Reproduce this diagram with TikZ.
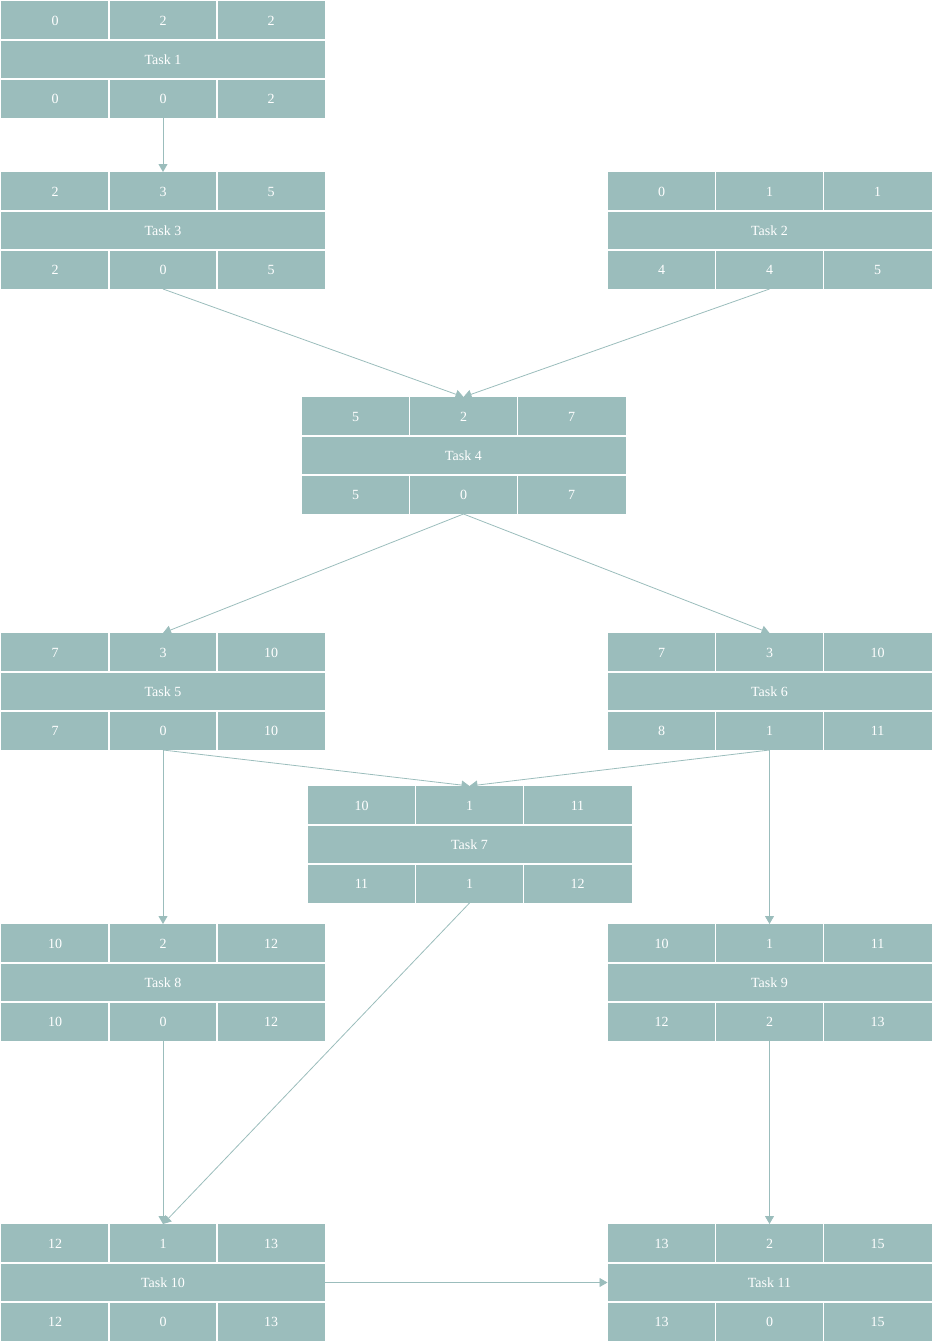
\documentclass[tikz,border=0pt]{standalone}
\usepackage{fontspec}
\setmainfont{Liberation Serif}
\usetikzlibrary{arrows.meta}
\definecolor{tealgrey}{RGB}{155,189,188}
\tikzset{
  taskblock/.style={fill=tealgrey, minimum width=324pt, minimum height=117pt, inner sep=0pt, outer sep=0pt},
  cell/.style={text=white, font=\fontsize{14}{16}\selectfont, inner sep=0pt, yshift=-0.5pt},
  sep/.style={draw=white, line width=1.2pt},
  conn/.style={draw=tealgrey, line width=0.8pt, -{Triangle[length=8pt,width=9pt]}}
}
\newcommand\taskbox[9]{%
  \node[taskblock] (#1) at (#2) {};
  \draw[sep] ([yshift=-39pt]#1.north west) -- ([yshift=-39pt]#1.north east);
  \draw[sep] ([yshift=39pt]#1.south west) -- ([yshift=39pt]#1.south east);
  \draw[sep] ([xshift=108pt]#1.north west) -- ([xshift=108pt,yshift=-39pt]#1.north west);
  \draw[sep] ([xshift=216pt]#1.north west) -- ([xshift=216pt,yshift=-39pt]#1.north west);
  \draw[sep] ([xshift=108pt]#1.south west) -- ([xshift=108pt,yshift=39pt]#1.south west);
  \draw[sep] ([xshift=216pt]#1.south west) -- ([xshift=216pt,yshift=39pt]#1.south west);
  \node[cell] (#1-a) at ([xshift=-108pt,yshift=39pt]#1.center) {#3};
  \node[cell] (#1-b) at ([yshift=39pt]#1.center) {#4};
  \node[cell] (#1-c) at ([xshift=108pt,yshift=39pt]#1.center) {#5};
  \node[cell] (#1-l) at (#1.center) {#6};
  \node[cell] (#1-d) at ([xshift=-108pt,yshift=-39pt]#1.center) {#7};
  \node[cell] (#1-e) at ([yshift=-39pt]#1.center) {#8};
  \node[cell] (#1-f) at ([xshift=108pt,yshift=-39pt]#1.center) {#9};
}
\begin{document}
\begin{tikzpicture}[x=1pt,y=-1pt]
\useasboundingbox (0,0) rectangle (933,1344);
\taskbox{t1}{163,59.5}{0}{2}{2}{Task 1}{0}{0}{2}
\taskbox{t3}{163,230.5}{2}{3}{5}{Task 3}{2}{0}{5}
\taskbox{t2}{769.5,230.5}{0}{1}{1}{Task 2}{4}{4}{5}
\taskbox{t4}{463.5,455.5}{5}{2}{7}{Task 4}{5}{0}{7}
\taskbox{t5}{163,691.5}{7}{3}{10}{Task 5}{7}{0}{10}
\taskbox{t6}{769.5,691.5}{7}{3}{10}{Task 6}{8}{1}{11}
\taskbox{t7}{469.5,844.5}{10}{1}{11}{Task 7}{11}{1}{12}
\taskbox{t8}{163,982.5}{10}{2}{12}{Task 8}{10}{0}{12}
\taskbox{t9}{769.5,982.5}{10}{1}{11}{Task 9}{12}{2}{13}
\taskbox{t10}{163,1282.5}{12}{1}{13}{Task 10}{12}{0}{13}
\taskbox{t11}{769.5,1282.5}{13}{2}{15}{Task 11}{13}{0}{15}
\draw[conn] (t1.south) -- (t3.north);
\draw[conn] (t3.south) -- (t4.north);
\draw[conn] (t2.south) -- (t4.north);
\draw[conn] (t4.south) -- (t5.north);
\draw[conn] (t4.south) -- (t6.north);
\draw[conn] (t5.south) -- (t7.north);
\draw[conn] (t6.south) -- (t7.north);
\draw[conn] (t5.south) -- (t8.north);
\draw[conn] (t6.south) -- (t9.north);
\draw[conn] (t7.south) -- (t10.north);
\draw[conn] (t8.south) -- (t10.north);
\draw[conn] (t9.south) -- (t11.north);
\draw[conn] (t10.east) -- (t11.west);
\end{tikzpicture}
\end{document}
